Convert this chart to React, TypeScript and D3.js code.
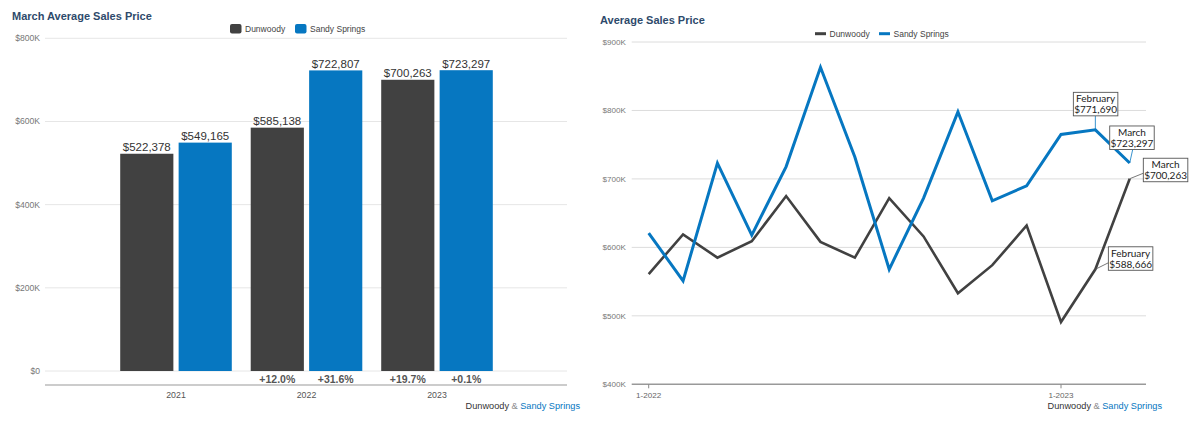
import React from 'react';
import * as d3 from 'd3';

// ---- data ----
const years = ['2021', '2022', '2023'];
const seriesNames = ['Dunwoody', 'Sandy Springs'];
const dunwoodyMarch = [522378, 585138, 700263];
const sandyMarch = [549165, 722807, 723297];

const monthTickLabels = ['1-2022', '1-2023'];
const monthTickIndex = [0, 12];
const dunwoodyMonthly = [561000, 619000, 585000, 609000, 675000, 608000, 585000, 672000, 616000, 533000, 574000, 632000, 491000, 568000, 700263];
const sandyMonthly = [621000, 551000, 723000, 618000, 718000, 863000, 732000, 568000, 672000, 798000, 668000, 690000, 765000, 771690, 723297];

const annotations = [
  { series: 'Sandy Springs', index: 13, month: 'February', label: '$771,690' },
  { series: 'Sandy Springs', index: 14, month: 'March', label: '$723,297' },
  { series: 'Dunwoody', index: 14, month: 'March', label: '$700,263' },
  { series: 'Dunwoody', index: 13, month: 'February', label: '$588,666' },
];

const DARK = '#414141';
const BLUE = '#0677c1';
const TITLE = '#2e4a6b';
const FONT = '"Liberation Sans", Arial, sans-serif';

const fmtK = (v: number) => (v === 0 ? '$0' : `$${v / 1000}K`);
const fmtMoney = d3.format('$,');
const pct = (a: number, b: number) => `+${((b / a - 1) * 100).toFixed(1)}%`;

const App: React.FC = () => {
  // ---- left: bar chart ----
  const yL = d3.scaleLinear().domain([0, 800000]).range([371, 38.3]);
  const x0 = d3.scaleBand().domain(years).range([110.75, 502.25]).paddingInner(0.145).paddingOuter(0.0725);
  const x1 = d3.scaleBand().domain(seriesNames).range([0, x0.bandwidth()]).paddingInner(0.09);
  const barSeries = [dunwoodyMarch, sandyMarch];
  const colors = [DARK, BLUE];

  // ---- right: line chart ----
  const xR = d3.scaleLinear().domain([0, 12]).range([648.7, 1061]);
  const yR = d3.scaleLinear().domain([400000, 900000]).range([384.3, 42]);
  const line = d3.line<number>().x((_, i) => xR(i)).y(d => yR(d));
  const monthly: Record<string, number[]> = { Dunwoody: dunwoodyMonthly, 'Sandy Springs': sandyMonthly };

  // box offset from point, and connector anchor relative to box
  const boxLayout = [
    { dx: -22, dy: -37.5, ax: 22, ay: 23.5 },
    { dx: -20, dy: -37, ax: 23, ay: 23.5 },
    { dx: 13.6, dy: -20.5, ax: 0, ay: 15 },
    { dx: 13, dy: -22.5, ax: 0, ay: 16 },
  ];

  return (
    <svg width={1200} height={428} style={{ position: 'absolute', left: 0, top: 0, fontFamily: FONT }}>
      <rect width={1200} height={428} fill="#fff" />

      {/* ===== Left chart ===== */}
      <text x={12} y={19.5} fontSize={11} fontWeight="bold" fill={TITLE}>March Average Sales Price</text>
      {seriesNames.map((s, i) => {
        const lx = [230, 295][i];
        return (
          <g key={s}>
            <rect x={lx} y={24} width={11.5} height={9.5} rx={2} fill={colors[i]} />
            <text x={lx + 15} y={32} fontSize={8.5} fill="#444">{s}</text>
          </g>
        );
      })}
      {yL.ticks(4).map(t => (
        <g key={t}>
          <line x1={45} x2={567} y1={yL(t)} y2={yL(t)} stroke="#e6e6e6" />
          <text x={40} y={yL(t) + 3} fontSize={8.6} fill="#777" textAnchor="end">{fmtK(t)}</text>
        </g>
      ))}
      <line x1={45} x2={567} y1={385} y2={385} stroke="#999" strokeWidth={1.2} />
      {years.map((yr, yi) => (
        <g key={yr}>
          {barSeries.map((vals, si) => {
            const bx = (x0(yr) ?? 0) + (x1(seriesNames[si]) ?? 0);
            const bw = x1.bandwidth();
            return (
              <g key={si}>
                <rect x={bx} y={yL(vals[yi])} width={bw} height={yL(0) - yL(vals[yi])} fill={colors[si]} />
                <text x={bx + bw / 2} y={yL(vals[yi]) - 2.5} fontSize={11.5} fill="#333" textAnchor="middle">
                  {fmtMoney(vals[yi])}
                </text>
                {yi > 0 && (
                  <text x={bx + bw / 2} y={382.5} fontSize={10.5} fontWeight="bold" fill="#555" textAnchor="middle">
                    {pct(vals[yi - 1], vals[yi])}
                  </text>
                )}
              </g>
            );
          })}
          <text x={(x0(yr) ?? 0) + x0.bandwidth() / 2} y={397.5} fontSize={8.8} fill="#555" textAnchor="middle">{yr}</text>
        </g>
      ))}
      <text x={580} y={409} fontSize={9.2} textAnchor="end">
        <tspan fill="#333">Dunwoody</tspan>
        <tspan fill="#888"> &amp; </tspan>
        <tspan fill={BLUE}>Sandy Springs</tspan>
      </text>

      {/* ===== Right chart ===== */}
      <text x={600} y={23.5} fontSize={11} fontWeight="bold" fill={TITLE}>Average Sales Price</text>
      {seriesNames.map((s, i) => {
        const lx = [815, 879][i];
        return (
          <g key={s}>
            <line x1={lx} x2={lx + 11} y1={33.7} y2={33.7} stroke={colors[i]} strokeWidth={3} />
            <text x={lx + 14.5} y={36.7} fontSize={8.5} fill="#444">{s}</text>
          </g>
        );
      })}
      {yR.ticks(5).map(t => (
        <g key={t}>
          {t > 400000 && <line x1={631.7} x2={1146} y1={yR(t)} y2={yR(t)} stroke="#dcdcdc" />}
          <text x={626} y={yR(t) + 3} fontSize={8.1} fill="#777" textAnchor="end">{fmtK(t)}</text>
        </g>
      ))}
      <line x1={631.7} x2={1146} y1={yR(400000)} y2={yR(400000)} stroke="#999" strokeWidth={1.5} />
      {monthTickIndex.map((m, i) => (
        <g key={m}>
          <line x1={xR(m)} x2={xR(m)} y1={yR(400000)} y2={yR(400000) + 4} stroke="#888" />
          <text x={xR(m)} y={398} fontSize={8.1} fill="#666" textAnchor="middle">{monthTickLabels[i]}</text>
        </g>
      ))}
      <path d={line(dunwoodyMonthly) ?? ''} fill="none" stroke={DARK} strokeWidth={2.6} strokeLinejoin="miter" />
      <path d={line(sandyMonthly) ?? ''} fill="none" stroke={BLUE} strokeWidth={3} strokeLinejoin="miter" />
      {annotations.map((a, i) => {
        const px = xR(a.index);
        const py = yR(monthly[a.series][a.index]);
        const L = boxLayout[i];
        const bx = px + L.dx;
        const by = py + L.dy;
        const c = a.series === 'Dunwoody' ? '#555' : BLUE;
        return (
          <g key={i}>
            <line x1={bx + L.ax} y1={by + L.ay} x2={px} y2={py} stroke={c} strokeWidth={0.8} />
            <rect x={bx} y={by} width={44.5} height={23.5} fill="#fff" stroke="#555" strokeWidth={0.9} />
            <text x={bx + 22.25} y={by + 10} fontSize={10} fontFamily="Lato, sans-serif" fill="#222" textAnchor="middle">{a.month}</text>
            <text x={bx + 22.25} y={by + 21} fontSize={10} fontFamily="Lato, sans-serif" fill="#222" textAnchor="middle">{a.label}</text>
          </g>
        );
      })}
      <text x={1162} y={409} fontSize={9.2} textAnchor="end">
        <tspan fill="#333">Dunwoody</tspan>
        <tspan fill="#888"> &amp; </tspan>
        <tspan fill={BLUE}>Sandy Springs</tspan>
      </text>
    </svg>
  );
};

export default App;
